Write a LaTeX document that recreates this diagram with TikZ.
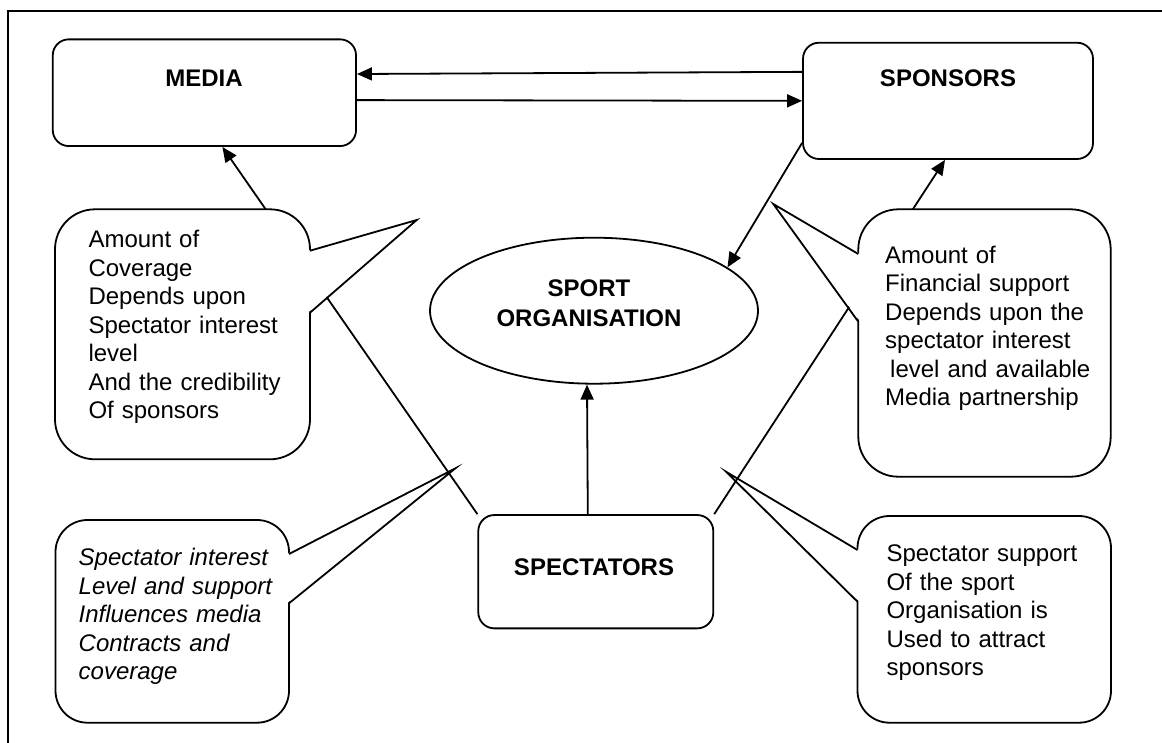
\documentclass[tikz,border=0pt]{standalone}
\usepackage{fontspec}
\setmainfont{Liberation Sans}
\usetikzlibrary{arrows.meta,shapes.geometric}
\begin{document}
\begin{tikzpicture}[x=1pt,y=-1pt,
  lw/.style={line width=1.8pt,line join=miter},
  box/.style={draw,line width=1.8pt,rounded corners=16pt,inner sep=0pt},
  arr/.style={line width=1.8pt,-{Triangle[length=15pt,width=13pt]}},
  bub/.style={draw,fill=white,line width=1.8pt},
  lbl/.style={font=\fontsize{24}{30}\selectfont\bfseries,inner sep=0pt},
  txt/.style={font=\fontsize{24}{28.5}\selectfont,anchor=base west,inner sep=0pt,text width=260pt,align=left}]
\useasboundingbox (0,0) rectangle (1162,742);
\draw[lw] (8,11) rectangle (1180,760);

% lower bubbles (under the connectors)
\draw[bub,rounded corners=32pt] (55.5,520) rectangle (289,722.7);
\fill[white] (287,554) -- (455.4,468.3) -- (287,603.3) -- cycle;
\draw[lw] (289,554) -- (455.4,468.3) -- (289,603.3);
\draw[bub,rounded corners=32pt] (857.5,516) rectangle (1111,722.7);
\fill[white] (859.5,550) -- (726,471.7) -- (859.5,601.7) -- cycle;
\draw[lw] (857.5,550) -- (726,471.7) -- (857.5,601.7);

% boxes
\node[box,minimum width=303.3pt,minimum height=106.7pt] (media) at (204.4,92.7) {};
\node[box,minimum width=290pt,minimum height=116.3pt] (spons) at (948,100.85) {};
\node[box,minimum width=235pt,minimum height=113.3pt] (spec) at (595.8,571.7) {};
\node[draw,ellipse,line width=1.8pt,inner sep=0pt,minimum width=328pt,minimum height=146pt] (org) at (594,310.7) {};

% connectors
\draw[arr] ([yshift=29pt]spons.west) -- ([yshift=18.7pt]media.east);
\draw[arr] ([yshift=-7.4pt]media.east) -- (spons.west);
\draw[arr] ([yshift=-42pt]spons.west) -- (org.18);
\draw[arr] ([xshift=-8pt]spec.north) -- ([xshift=-7pt]org.south);
\draw[arr] (spec.north west) -- ([xshift=18pt]media.south);
\draw[arr] (spec.north east) -- ([xshift=-3pt]spons.south);

% upper bubbles (over the connectors)
\draw[bub,rounded corners=40pt] (55,209.3) rectangle (310,459.3);
\fill[white] (308,250.7) -- (416.7,220) -- (308,312.7) -- cycle;
\draw[lw] (310,250.7) -- (416.7,220) -- (310,312.7);
\draw[bub,rounded corners=40pt] (858.3,209.3) rectangle (1110.7,476.7);
\fill[white] (860.3,254) -- (773.3,204) -- (860.3,321.7) -- cycle;
\draw[lw] (858.3,254) -- (773.3,204) -- (858.3,321.7);

% labels
\node[lbl,anchor=base] (medialbl) at (204,86) {MEDIA};
\node[lbl,anchor=base] (sponslbl) at (948,86) {SPONSORS};
\node[lbl,anchor=base] (speclbl) at (594,575) {SPECTATORS};
\node[lbl,anchor=base,text width=320pt,align=center] (orglbl) at (589,296.7) {SPORT\\ORGANISATION};

% bubble texts
\node[txt] (t1) at (88.3,247.7) {Amount of\\Coverage\\Depends upon\\Spectator interest\\level\\And the credibility\\Of sponsors};
\node[txt,font=\fontsize{24}{28.5}\selectfont\itshape] (t2) at (78.5,565.7) {Spectator interest\\Level and support\\Influences media\\Contracts and\\coverage};
\node[txt] (t3) at (885,263.3) {Amount of\\Financial support\\Depends upon the\\spectator interest\\\hspace*{5pt}level and available\\Media partnership};
\node[txt] (t4) at (886.3,561.7) {Spectator support\\Of the sport\\Organisation is\\Used to attract\\sponsors};
\end{tikzpicture}
\end{document}
